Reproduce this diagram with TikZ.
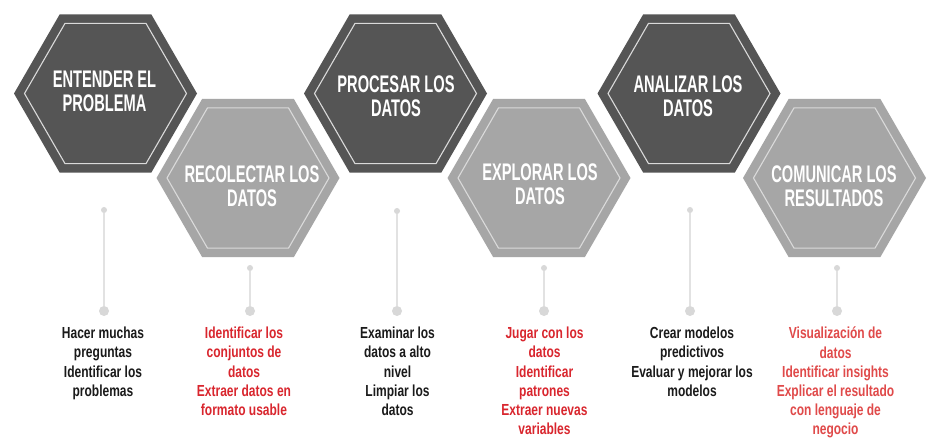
\documentclass[tikz,border=0pt]{standalone}
\usepackage{fontspec}
\newfontfamily\hexfont{Liberation Sans}[FakeStretch=0.61]
\newfontfamily\listfont{Liberation Sans}[FakeStretch=0.75]
\definecolor{darkhex}{HTML}{555555}
\definecolor{lighthex}{HTML}{A6A6A6}
\definecolor{hexrim}{HTML}{DADADA}
\definecolor{stemgray}{HTML}{E2E2E2}
\definecolor{dotgray}{HTML}{D8D8D8}
\definecolor{redA}{HTML}{D9262E}
\definecolor{redB}{HTML}{E04A4A}
\definecolor{txtblack}{HTML}{1A1A1A}
\tikzset{
  hexdark/.style={fill=darkhex},
  hexlight/.style={fill=lighthex},
  hexline/.style={draw=hexrim, line width=1.1pt},
  hextext/.style={text=white, align=center, inner sep=0pt,
    font=\hexfont\bfseries\fontsize{24}{24.5}\selectfont},
  listtext/.style={align=center, inner sep=0pt, anchor=north,
    font=\listfont\bfseries\fontsize{16}{19.2}\selectfont},
  topdot/.style={circle, fill=dotgray, inner sep=0pt, minimum size=6pt},
  botdot/.style={circle, fill=dotgray, inner sep=0pt, minimum size=10pt},
  stem/.style={draw=stemgray, line width=2pt}
}
\newcommand\hexagonat[3]{%
  \begin{scope}[shift={(#1,#2)}]
    \fill[#3] (0:91.5) -- (60:91.5) -- (120:91.5) -- (180:91.5) -- (240:91.5) -- (300:91.5) -- cycle;
    \draw[hexline] (0:81) -- (60:81) -- (120:81) -- (180:81) -- (240:81) -- (300:81) -- cycle;
  \end{scope}}
\begin{document}
\begin{tikzpicture}[x=1pt,y=-1pt]
\useasboundingbox (0,0) rectangle (936,443);
\fill[white] (0,0) rectangle (936,443);
% hexagons
\hexagonat{105.5}{93.5}{hexdark}
\hexagonat{248}{178}{hexlight}
\hexagonat{395.5}{93.5}{hexdark}
\hexagonat{539}{178}{hexlight}
\hexagonat{689}{93.5}{hexdark}
\hexagonat{834.5}{178}{hexlight}
% titles
\node[hextext] (h1) at (104.5,91.5) {ENTENDER EL\\PROBLEMA};
\node[hextext] (h2) at (252,186) {RECOLECTAR LOS\\DATOS};
\node[hextext] (h3) at (396,96) {PROCESAR LOS\\DATOS};
\node[hextext] (h4) at (540,184) {EXPLORAR LOS\\DATOS};
\node[hextext] (h5) at (688,96) {ANALIZAR LOS\\DATOS};
\node[hextext] (h6) at (834,186) {COMUNICAR LOS\\RESULTADOS};
% stems
\node[topdot] (t1) at (104,210) {};
\node[botdot] (b1) at (104,311) {};
\node[topdot] (t2) at (250,268) {};
\node[botdot] (b2) at (250,311) {};
\node[topdot] (t3) at (397,211) {};
\node[botdot] (b3) at (397,311) {};
\node[topdot] (t4) at (544,268) {};
\node[botdot] (b4) at (544,311) {};
\node[topdot] (t5) at (690,210) {};
\node[botdot] (b5) at (690,311) {};
\node[topdot] (t6) at (837,268) {};
\node[botdot] (b6) at (837,311) {};
\foreach \i in {1,...,6} \draw[stem] (t\i) -- (b\i);
% lists
\node[listtext, text=txtblack] (l1) at (103,327) {Hacer muchas\\preguntas\\Identificar los\\problemas};
\node[listtext, text=redA] (l2) at (244,327) {Identificar los\\conjuntos de\\datos\\Extraer datos en\\formato usable};
\node[listtext, text=txtblack] (l3) at (397.5,327) {Examinar los\\datos a alto\\nivel\\Limpiar los\\datos};
\node[listtext, text=redA] (l4) at (544.5,327) {Jugar con los\\datos\\Identificar\\patrones\\Extraer nuevas\\variables};
\node[listtext, text=txtblack] (l5) at (692,327) {Crear modelos\\predictivos\\Evaluar y mejorar los\\modelos};
\node[listtext, text=redB] (l6) at (835.5,327) {Visualización de\\datos\\Identificar insights\\Explicar el resultado\\con lenguaje de\\negocio};
\end{tikzpicture}
\end{document}
